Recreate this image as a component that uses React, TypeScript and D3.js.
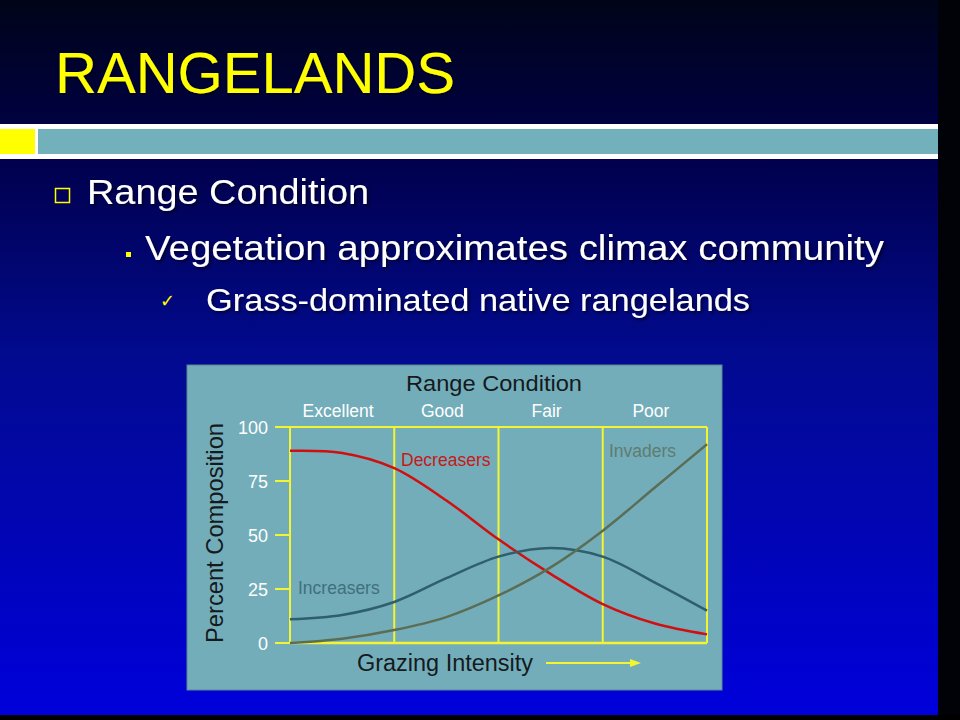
import React from "react";
import * as d3 from "d3";

const intensity = [0, 0.5, 1, 1.5, 2, 2.5, 3, 3.5, 4];
const decreasers = [89, 88, 81, 66, 48, 32, 18, 9, 4];
const increasers = [11, 13, 19, 30, 40, 44, 40, 28, 15];
const invaders = [0, 2, 6, 12, 22, 35, 52, 72, 92];
const conditions = ["Excellent", "Good", "Fair", "Poor"];
const yTicks = [0, 25, 50, 75, 100];
const bands = [0, 1, 2, 3, 4];

const series = [
  { name: "Decreasers", values: decreasers, color: "#d01010", labelColor: "#c81818", lx: 401, ly: 466 },
  { name: "Increasers", values: increasers, color: "#2f5e6c", labelColor: "#40707c", lx: 298, ly: 594 },
  { name: "Invaders", values: invaders, color: "#5b6e55", labelColor: "#5f7c70", lx: 609, ly: 457 },
];

export default function App() {
  const x = d3.scaleLinear().domain([0, 4]).range([290, 707]);
  const y = d3.scaleLinear().domain([0, 100]).range([643, 427]);
  const line = (vals: number[]) =>
    d3
      .line<number>()
      .x((_, i) => x(intensity[i]))
      .y((d) => y(d))
      .curve(d3.curveCatmullRom.alpha(0.5))(vals) || "";
  const yellow = "#f4f430";
  const font = "'Liberation Sans', Arial, sans-serif";
  return (
    <svg
      width={960}
      height={720}
      style={{ position: "fixed", left: 0, top: 0 }}
      fontFamily={font}
    >
      <defs>
        <linearGradient id="bg" x1="0" y1="0" x2="0" y2="1">
          <stop offset="0" stopColor="#000418" />
          <stop offset="0.22" stopColor="#00004c" />
          <stop offset="0.5" stopColor="#020a90" />
          <stop offset="1" stopColor="#0000dc" />
        </linearGradient>
        <filter id="sh" x="-5%" y="-20%" width="110%" height="140%">
          <feDropShadow dx="2" dy="2" stdDeviation="1.5" floodColor="#000020" floodOpacity="0.8" />
        </filter>
      </defs>
      <rect x={0} y={0} width={960} height={720} fill="url(#bg)" />
      <rect x={938} y={0} width={22} height={720} fill="#000208" />
      <rect x={0} y={715} width={960} height={5} fill="#000000" />

      {/* title */}
      <text x={55} y={93} fontSize={58} fill="#ffff00" textLength={400} lengthAdjust="spacingAndGlyphs" filter="url(#sh)">
        RANGELANDS
      </text>
      {/* band */}
      <rect x={0} y={124} width={938} height={35} fill="#ffffff" />
      <rect x={0} y={129} width={35} height={25} fill="#ffff00" />
      <rect x={38} y={129} width={900} height={25} fill="#72b0bc" />

      {/* bullets */}
      <rect x={55.5} y={188.5} width={14} height={14} fill="none" stroke="#ffff00" strokeWidth={1.5} />
      <text x={87} y={204} fontSize={35} fill="#ffffff" filter="url(#sh)" textLength={282} lengthAdjust="spacingAndGlyphs">
        Range Condition
      </text>
      <rect x={126} y={252} width={5} height={5} fill="#ffff00" />
      <text x={145} y={260} fontSize={35} fill="#ffffff" filter="url(#sh)" textLength={739} lengthAdjust="spacingAndGlyphs">
        Vegetation approximates climax community
      </text>
      <text x={160} y={307} fontSize={18} fill="#ffff00">
        ✓
      </text>
      <text x={206} y={311} fontSize={32} fill="#ffffff" filter="url(#sh)" textLength={544} lengthAdjust="spacingAndGlyphs">
        Grass-dominated native rangelands
      </text>

      {/* chart panel */}
      <rect x={187} y={365} width={535} height={325} fill="#73adba" stroke="#5a8894" strokeWidth={1} />
      <text x={494} y={391} fontSize={22} fill="#151a1c" textAnchor="middle" textLength={176} lengthAdjust="spacingAndGlyphs">
        Range Condition
      </text>
      {conditions.map((c, i) => (
        <text key={c} x={x(i + 0.5) - 4} y={417} fontSize={17.5} fill="#ffffff" textAnchor="middle">
          {c}
        </text>
      ))}

      {/* ticks */}
      {yTicks.map((t) => (
        <g key={t}>
          <line x1={275} x2={290} y1={y(t)} y2={y(t)} stroke={yellow} strokeWidth={2} />
          <text x={268} y={y(t) + 6.5} fontSize={18} fill="#ffffff" textAnchor="end">
            {t}
          </text>
        </g>
      ))}

      {/* grid frame */}
      {bands.map((b) => (
        <line key={b} x1={x(b)} x2={x(b)} y1={y(100)} y2={y(0)} stroke={yellow} strokeWidth={2} />
      ))}
      <line x1={x(0)} x2={x(4)} y1={y(100)} y2={y(100)} stroke={yellow} strokeWidth={2} />
      <line x1={x(0)} x2={x(4)} y1={y(0)} y2={y(0)} stroke={yellow} strokeWidth={2.5} />

      {/* curves */}
      {series.map((s) => (
        <path key={s.name} d={line(s.values)} fill="none" stroke={s.color} strokeWidth={2.5} />
      ))}
      {series.map((s) => (
        <text key={s.name + "l"} x={s.lx} y={s.ly} fontSize={17.5} fill={s.labelColor}>
          {s.name}
        </text>
      ))}

      {/* axis titles */}
      <text
        transform={`translate(223,${533}) rotate(-90)`}
        fontSize={24}
        fill="#151a1c"
        textAnchor="middle"
        textLength={220}
        lengthAdjust="spacingAndGlyphs"
      >
        Percent Composition
      </text>
      <text x={445} y={671} fontSize={23} fill="#151a1c" textAnchor="middle" textLength={176} lengthAdjust="spacingAndGlyphs">
        Grazing Intensity
      </text>
      <line x1={546} x2={632} y1={663} y2={663} stroke={yellow} strokeWidth={2} />
      <path d="M630,659 L641,663 L630,667 Z" fill={yellow} />
    </svg>
  );
}
